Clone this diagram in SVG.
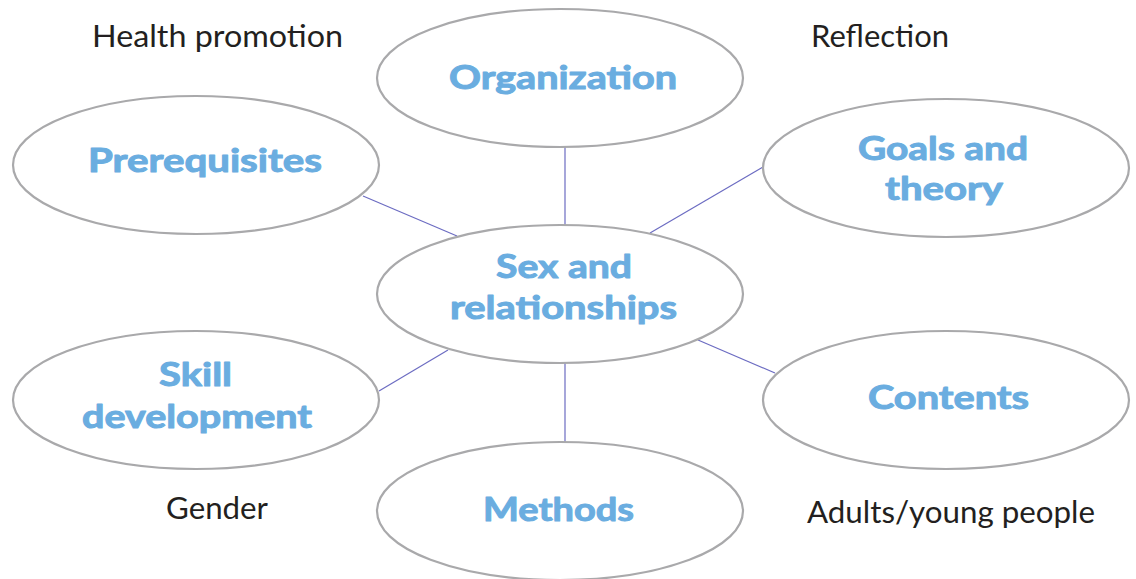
<svg xmlns="http://www.w3.org/2000/svg" width="1136" height="579" viewBox="0 0 1136 579">
<style>
.node ellipse{fill:#ffffff;stroke:#a9a9ab;stroke-width:2.2}
.lbl{font-family:Lato,"Open Sans","Liberation Sans",sans-serif;font-weight:bold;font-size:33px;fill:#6aade0;stroke:#6aade0;stroke-width:1;stroke-linejoin:round}
.plain{font-family:Lato,"Open Sans","Liberation Sans",sans-serif;font-size:30px;fill:#231f20}
#connectors line{stroke:#6c6cc2;stroke-width:1.2}
</style>
<rect width="1136" height="579" fill="#ffffff"/>
<g id="connectors">
<line x1="565" y1="147" x2="565" y2="226"/>
<line x1="363" y1="196" x2="457" y2="236"/>
<line x1="763" y1="167" x2="650" y2="233"/>
<line x1="448" y1="350" x2="379" y2="391"/>
<line x1="698" y1="340" x2="775" y2="373"/>
<line x1="565" y1="362" x2="565" y2="442"/>
</g>
<g id="organization" class="node"><ellipse cx="560" cy="78" rx="183" ry="69"/><text class="lbl" x="449" y="89" textLength="228" lengthAdjust="spacingAndGlyphs">Organization</text></g>
<g id="prerequisites" class="node"><ellipse cx="196" cy="165" rx="183" ry="69"/><text class="lbl" x="88" y="172" textLength="234" lengthAdjust="spacingAndGlyphs">Prerequisites</text></g>
<g id="goals" class="node"><ellipse cx="946" cy="168" rx="183" ry="69"/><text class="lbl" x="858" y="160" textLength="170" lengthAdjust="spacingAndGlyphs">Goals and</text><text class="lbl" x="885" y="200" textLength="118" lengthAdjust="spacingAndGlyphs">theory</text></g>
<g id="center" class="node"><ellipse cx="560" cy="294" rx="183" ry="69"/><text class="lbl" x="496" y="278" textLength="136" lengthAdjust="spacingAndGlyphs">Sex and</text><text class="lbl" x="450" y="319" textLength="227" lengthAdjust="spacingAndGlyphs">relationships</text></g>
<g id="skill" class="node"><ellipse cx="196" cy="400" rx="183" ry="69"/><text class="lbl" x="159" y="386" textLength="73" lengthAdjust="spacingAndGlyphs">Skill</text><text class="lbl" x="82" y="428" textLength="230" lengthAdjust="spacingAndGlyphs">development</text></g>
<g id="contents" class="node"><ellipse cx="946" cy="400" rx="183" ry="69"/><text class="lbl" x="868" y="409" textLength="161" lengthAdjust="spacingAndGlyphs">Contents</text></g>
<g id="methods" class="node"><ellipse cx="560" cy="511" rx="183" ry="69"/><text class="lbl" x="483" y="521" textLength="151" lengthAdjust="spacingAndGlyphs">Methods</text></g>
<g id="labels">
<text class="plain" x="92" y="47" textLength="251" lengthAdjust="spacingAndGlyphs">Health promotion</text>
<text class="plain" x="811" y="47" textLength="138" lengthAdjust="spacingAndGlyphs">Reflection</text>
<text class="plain" x="166" y="519" textLength="102" lengthAdjust="spacingAndGlyphs">Gender</text>
<text class="plain" x="807" y="523" textLength="288" lengthAdjust="spacingAndGlyphs">Adults/young people</text>
</g>
</svg>
